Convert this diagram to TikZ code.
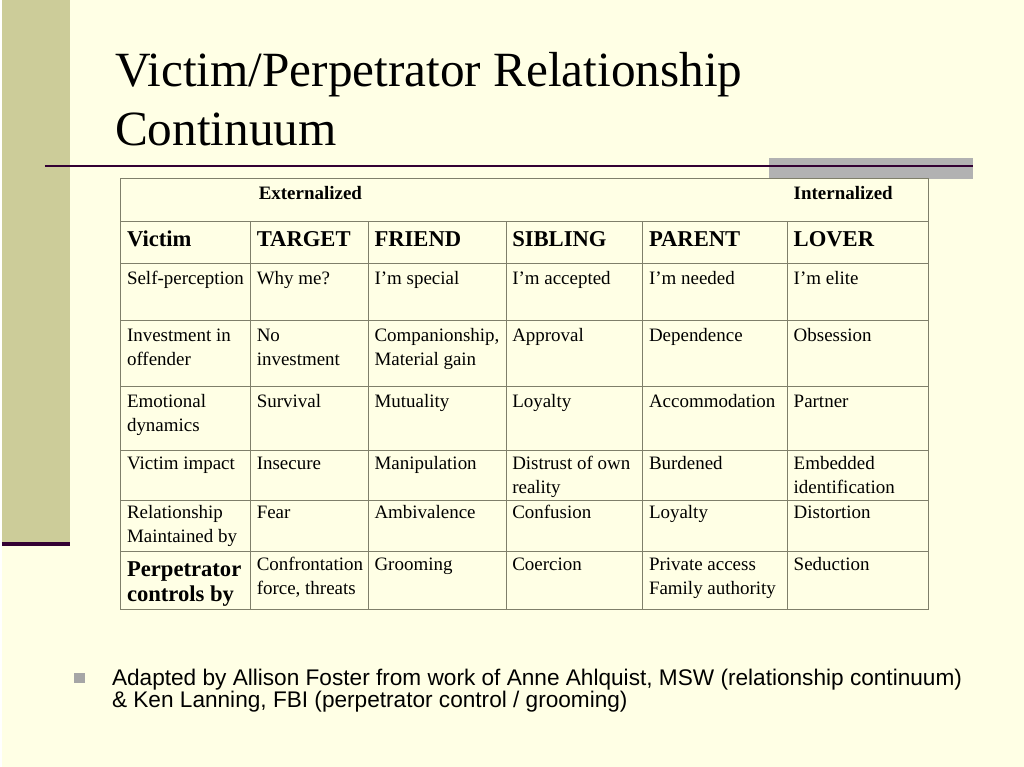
\documentclass[tikz,border=0pt]{standalone}
\usepackage{fontspec}
\setmainfont{Liberation Serif}
\newfontfamily\notefont{Liberation Sans}

\definecolor{slidebg}{HTML}{FFFFE5}
\definecolor{sidebar}{HTML}{CCCC99}
\definecolor{rulepurple}{HTML}{330033}
\definecolor{bandgray}{HTML}{B2B2B2}
\definecolor{gridline}{HTML}{7F7F6A}
\definecolor{bulletgray}{HTML}{A6A6A6}

\newcommand{\cellfont}{\fontsize{14.25}{18}\selectfont}
\newcommand{\headfont}{\fontsize{17}{19}\selectfont\bfseries}
\newcommand{\cellpair}[3][18pt]{\vtop{\baselineskip=#1\hbox{#2}\hbox{#3}}}

\begin{document}
\begin{tikzpicture} [x=0.75pt, y=-0.75pt,
		cell/.style={anchor=base west, inner sep=0pt, font=\cellfont},
		head/.style={anchor=base west, inner sep=0pt, font=\headfont}]

			\fill [slidebg] (0,0) rectangle (1024,768);
			\fill [sidebar] (0,0) rectangle (68,544);
			\draw [rulepurple, line width=3pt] (0,545.5) -- (68,545.5);

			\fill [bandgray] (768,158) rectangle (973,179);
			\draw [rulepurple, line width=1.5pt] (43,166.5) -- (973,166.5);

			\node [anchor=base west, inner sep=0pt, font=\fontsize{37}{44}\selectfont] (title) at (113,87)
				{\cellpair[44.25pt]{Victim/Perpetrator Relationship}{Continuum}};

			\draw [gridline, line width=0.75pt] (119,179) rectangle (928,611);
			\draw [gridline, line width=0.75pt] (119,222) -- (928,222) (119,264) -- (928,264)
				(119,321) -- (928,321) (119,387) -- (928,387) (119,451) -- (928,451)
				(119,501) -- (928,501) (119,553) -- (928,553);
			\draw [gridline, line width=0.75pt] (249,222) -- (249,611) (367,222) -- (367,611)
				(505,222) -- (505,611) (642,222) -- (642,611) (787,222) -- (787,611);

			\node [cell, font=\cellfont\bfseries] (ext) at (257,200) {Externalized};
			\node [cell, font=\cellfont\bfseries] (int) at (793,200) {Internalized};

			\node [head] (victim) at (125,247) {Victim};
			\node [head] (target) at (255,247) {TARGET};
			\node [head] (friend) at (373,247) {FRIEND};
			\node [head] (sibling) at (511,247) {SIBLING};
			\node [head] (parent) at (648,247) {PARENT};
			\node [head] (lover) at (793,247) {LOVER};

			\node [cell] (selfLbl) at (125,285) {Self-perception};
			\node [cell] (selfTarget) at (255,285) {Why me?};
			\node [cell] (selfFriend) at (373,285) {I’m special};
			\node [cell] (selfSibling) at (511,285) {I’m accepted};
			\node [cell] (selfParent) at (648,285) {I’m needed};
			\node [cell] (selfLover) at (793,285) {I’m elite};

			\node [cell] (investLbl) at (125,342) {\cellpair{Investment in}{offender}};
			\node [cell] (investTarget) at (255,342) {\cellpair{No}{investment}};
			\node [cell] (investFriend) at (373,342) {\cellpair{Companionship,}{Material gain}};
			\node [cell] (investSibling) at (511,342) {Approval};
			\node [cell] (investParent) at (648,342) {Dependence};
			\node [cell] (investLover) at (793,342) {Obsession};

			\node [cell] (emoLbl) at (125,408) {\cellpair{Emotional}{dynamics}};
			\node [cell] (emoTarget) at (255,408) {Survival};
			\node [cell] (emoFriend) at (373,408) {Mutuality};
			\node [cell] (emoSibling) at (511,408) {Loyalty};
			\node [cell] (emoParent) at (648,408) {Accommodation};
			\node [cell] (emoLover) at (793,408) {Partner};

			\node [cell] (impactLbl) at (125,470) {Victim impact};
			\node [cell] (impactTarget) at (255,470) {Insecure};
			\node [cell] (impactFriend) at (373,470) {Manipulation};
			\node [cell] (impactSibling) at (511,470) {\cellpair{Distrust of own}{reality}};
			\node [cell] (impactParent) at (648,470) {Burdened};
			\node [cell] (impactLover) at (793,470) {\cellpair{Embedded}{identification}};

			\node [cell] (relLbl) at (125,520) {\cellpair{Relationship}{Maintained by}};
			\node [cell] (relTarget) at (255,520) {Fear};
			\node [cell] (relFriend) at (373,520) {Ambivalence};
			\node [cell] (relSibling) at (511,520) {Confusion};
			\node [cell] (relParent) at (648,520) {Loyalty};
			\node [cell] (relLover) at (793,520) {Distortion};

			\node [head] (ctrlLbl) at (125,578) {\cellpair[18.75pt]{Perpetrator}{controls by}};
			\node [cell] (ctrlTarget) at (255,572) {\cellpair{Confrontation}{force, threats}};
			\node [cell] (ctrlFriend) at (373,572) {Grooming};
			\node [cell] (ctrlSibling) at (511,572) {Coercion};
			\node [cell] (ctrlParent) at (648,572) {\cellpair{Private access}{Family authority}};
			\node [cell] (ctrlLover) at (793,572) {Seduction};

			\fill [bulletgray] (72,674) rectangle (83,684);
			\node [anchor=base west, inner sep=0pt, font=\notefont\fontsize{17}{20}\selectfont] (credit) at (110,687)
				{\cellpair[16.5pt]{Adapted by Allison Foster from work of Anne Ahlquist, MSW (relationship continuum)}{\& Ken Lanning, FBI (perpetrator control / grooming)}};
		\end{tikzpicture}
\end{document}
